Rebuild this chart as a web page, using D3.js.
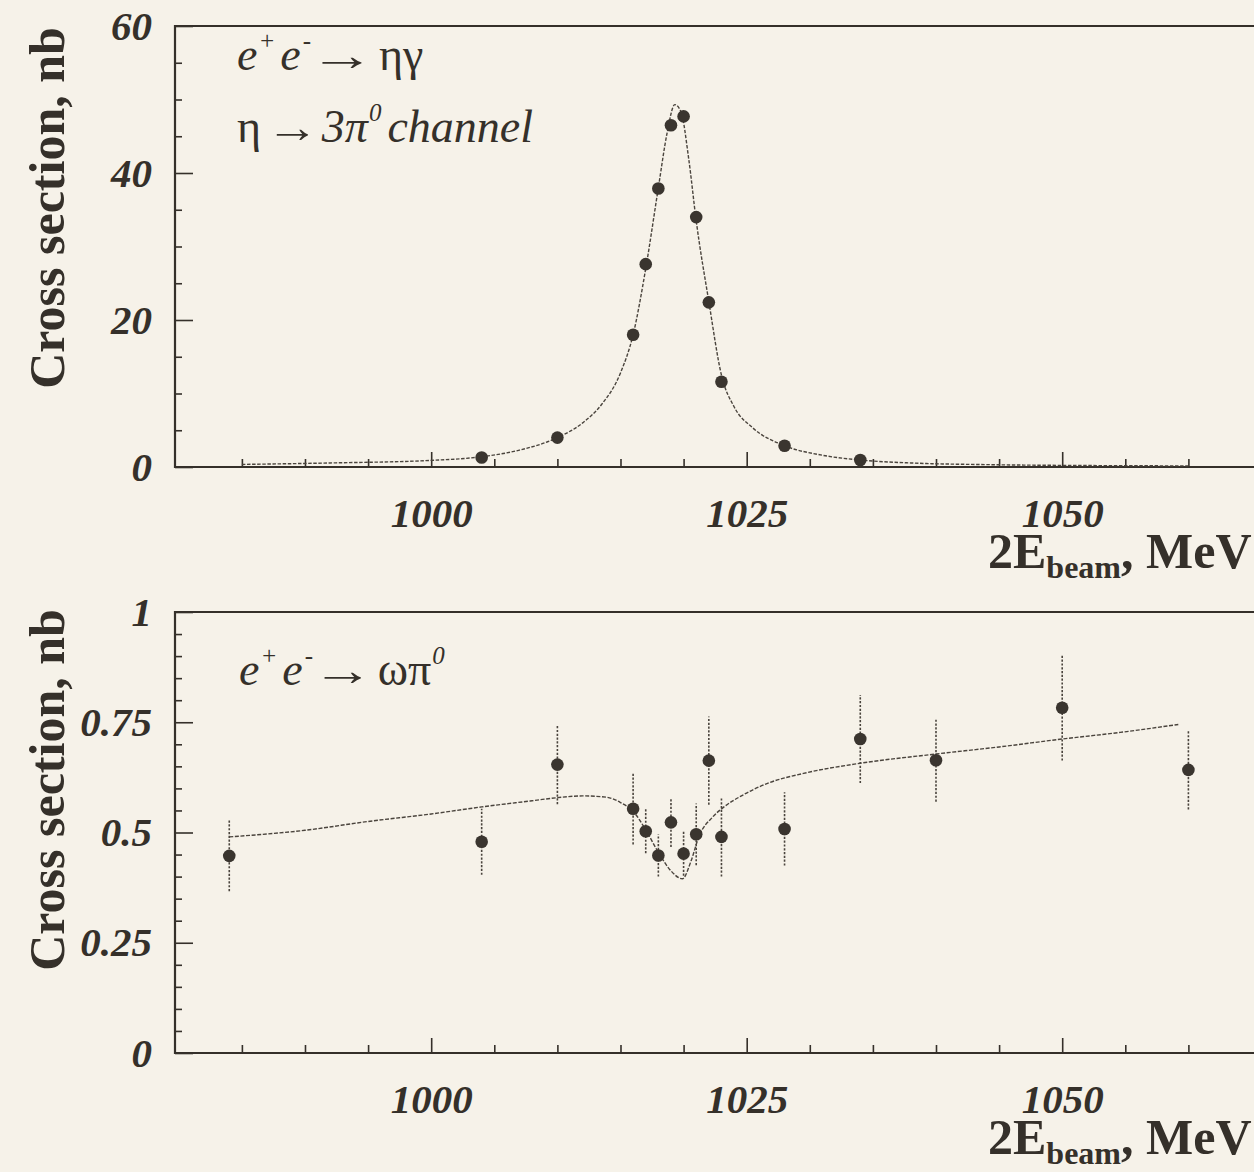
<!DOCTYPE html>
<html>
<head>
<meta charset="utf-8">
<script src="https://cdn.jsdelivr.net/npm/d3@7"></script>
<style>
  html, body { margin: 0; padding: 0; background: #f6f2e9; }
  svg { display: block; }
  text { font-family: "Liberation Serif", "Times New Roman", serif; fill: #35302a; }
</style>
</head>
<body>
<svg id="chart" width="1254" height="1172"></svg>
<script>
// ---- e+e- -> eta gamma (eta -> 3pi0): measured cross section, nb ----
const etaEnergy = [1004, 1010, 1016, 1017, 1018, 1019, 1020, 1021, 1022, 1023, 1028, 1034];
const etaSigma  = [1.3, 4.0, 18.0, 27.6, 37.9, 46.5, 47.7, 34.0, 22.4, 11.6, 2.9, 0.95];

// fitted curve, sampled along its drawn shape
const etaFitEnergy = [985, 992, 1000, 1004, 1007, 1010, 1012, 1013.5, 1015, 1016, 1017, 1018,
                      1018.7, 1019.3, 1019.8, 1020.4, 1021, 1022, 1023, 1024, 1025.5, 1028,
                      1031, 1034, 1038, 1045, 1052, 1060];
const etaFitSigma  = [0.35, 0.55, 0.9, 1.4, 2.3, 4.0, 6.0, 8.5, 12.8, 18.0, 27.0, 38.0,
                      45.5, 49.3, 48.3, 42.0, 33.5, 22.5, 12.5, 8.2, 5.3, 2.9,
                      1.6, 0.95, 0.55, 0.3, 0.2, 0.15];

// ---- e+e- -> omega pi0: measured cross section with errors, nb ----
const omegaEnergy = [984, 1004, 1010, 1016, 1017, 1018, 1019, 1020, 1021, 1022, 1023, 1028, 1034, 1040, 1050, 1060];
const omegaSigma  = [0.447, 0.479, 0.654, 0.554, 0.503, 0.448, 0.523, 0.452, 0.496, 0.663, 0.490, 0.508, 0.712, 0.664, 0.783, 0.642];
const omegaError  = [0.080, 0.075, 0.090, 0.081, 0.050, 0.048, 0.056, 0.050, 0.070, 0.100, 0.090, 0.083, 0.100, 0.094, 0.120, 0.090];

const omegaFitEnergy = [984, 990, 995, 1000, 1004, 1008, 1010, 1012, 1013.9, 1015, 1016, 1017, 1018,
                        1019, 1019.9, 1020.6, 1021.2, 1022.3, 1023.2, 1024.7, 1026.7, 1029.5,
                        1034, 1040, 1045, 1050, 1054.6, 1059.2];
const omegaFitSigma  = [0.490, 0.505, 0.525, 0.542, 0.558, 0.572, 0.579, 0.583, 0.580, 0.568, 0.548, 0.506, 0.455,
                        0.413, 0.395, 0.436, 0.490, 0.535, 0.558, 0.585, 0.612, 0.634,
                        0.657, 0.678, 0.694, 0.712, 0.727, 0.745];

// ---- axis ticks ----
const energyMajor = [1000, 1025, 1050];
const energyMinor = [985, 990, 995, 1005, 1010, 1015, 1020, 1030, 1035, 1040, 1045, 1055, 1060];
const etaMajor = [0, 20, 40, 60];
const etaMinor = [5, 10, 15, 25, 30, 35, 45, 50, 55];
const omegaMajor = [0, 0.25, 0.5, 0.75, 1];
const omegaMajorLabels = ["0", "0.25", "0.5", "0.75", "1"];
const omegaMinor = [0.05, 0.1, 0.15, 0.2, 0.3, 0.35, 0.4, 0.45, 0.55, 0.6, 0.65, 0.7, 0.8, 0.85, 0.9, 0.95];

const INK = "#35302a";
const svg = d3.select("#chart");
svg.append("rect").attr("width", 1254).attr("height", 1172).attr("fill", "#f6f2e9");

const x = d3.scaleLinear().domain([979.7, 1070]).range([175, 1314.6]);

function panel(opts) {
  const y = d3.scaleLinear().domain(opts.yDomain).range([opts.bottom, opts.top]);
  const g = svg.append("g");

  // frame: left, top and bottom lines (right side runs off the page)
  g.append("path")
    .attr("d", `M${x.range()[1]},${opts.top}H${x.range()[0]}V${opts.bottom}H${x.range()[1]}`)
    .attr("fill", "none").attr("stroke", INK).attr("stroke-width", 2.2);

  // x ticks (inward)
  const xMaj = g.append("g").attr("transform", `translate(0,${opts.bottom})`)
    .call(d3.axisBottom(x).tickValues(energyMajor).tickSize(-15).tickSizeOuter(0)
      .tickPadding(31).tickFormat(d3.format("d")));
  const xMin = g.append("g").attr("transform", `translate(0,${opts.bottom})`)
    .call(d3.axisBottom(x).tickValues(energyMinor).tickSize(-8).tickSizeOuter(0).tickFormat(""));

  // y ticks (inward)
  const yMaj = g.append("g").attr("transform", `translate(${x.range()[0]},0)`)
    .call(d3.axisLeft(y).tickValues(opts.major).tickSize(-18).tickSizeOuter(0)
      .tickPadding(23).tickFormat((d, i) => opts.labels[i]));
  const yMin = g.append("g").attr("transform", `translate(${x.range()[0]},0)`)
    .call(d3.axisLeft(y).tickValues(opts.minor).tickSize(-7).tickSizeOuter(0).tickFormat(""));

  [xMaj, xMin, yMaj, yMin].forEach(a => {
    a.select(".domain").remove();
    a.selectAll("line").attr("stroke", INK).attr("stroke-width", 1.6);
    a.selectAll("text")
      .attr("font-family", "Liberation Serif, serif")
      .attr("font-size", 41).attr("font-weight", "bold").attr("font-style", "italic")
      .attr("fill", INK);
  });

  // y title
  g.append("text")
    .attr("transform", `translate(64,${opts.titleY}) rotate(-90)`)
    .attr("text-anchor", "middle")
    .attr("font-size", 50).attr("font-weight", "bold")
    .text("Cross section, nb");

  // x title: 2E_beam, MeV
  const xt = g.append("text")
    .attr("x", 988).attr("y", opts.bottom + 101)
    .attr("font-size", 50).attr("font-weight", "bold");
  xt.append("tspan").text("2E");
  xt.append("tspan").attr("font-size", 32).attr("dy", 10).text("beam");
  xt.append("tspan").attr("dy", -10).text(",");
  xt.append("tspan").text(" MeV");

  return { g, y };
}

// Reaction label pieces: [string, kind, dx] with kind "i" (italic),
// "u" (upright) or "s" (italic superscript). Returns the x where the run ends.
function run(g, x0, base, pieces) {
  const t = g.append("text").attr("x", x0).attr("y", base).attr("font-size", 46);
  let raised = false;
  pieces.forEach(([s, kind, dx]) => {
    const sp = t.append("tspan").text(s)
      .attr("font-style", kind === "u" ? "normal" : "italic");
    if (dx) sp.attr("dx", dx);
    if (kind === "s") {
      sp.attr("font-size", 25);
      if (!raised) { sp.attr("dy", -21); raised = true; }
    } else if (raised) {
      sp.attr("dy", 21); raised = false;
    }
  });
  return x0 + t.node().getComputedTextLength();
}
// long reaction arrow: the ordinary arrow glyph stretched horizontally
function arrow(g, x0, base, stretch) {
  const t = g.append("text")
    .attr("transform", `translate(${x0},${base}) scale(${stretch},1)`)
    .attr("font-size", 44).text("\u2192");
  return x0 + t.node().getComputedTextLength() * stretch;
}

// ---------- upper panel: eta gamma ----------
const upper = panel({
  yDomain: [0, 60], top: 26, bottom: 467, titleY: 208,
  major: etaMajor, labels: etaMajor.map(String), minor: etaMinor
});

const etaLine = d3.line()
  .x((d, i) => x(etaFitEnergy[i]))
  .y((d, i) => upper.y(etaFitSigma[i]))
  .curve(d3.curveMonotoneX);
upper.g.append("path")
  .attr("d", etaLine(etaFitEnergy))
  .attr("fill", "none").attr("stroke", "#4a443d").attr("stroke-width", 1.4)
  .attr("stroke-dasharray", "3.5,1.6");

upper.g.selectAll("circle.eta").data(etaEnergy).join("circle")
  .attr("class", "eta")
  .attr("cx", d => x(d))
  .attr("cy", (d, i) => upper.y(etaSigma[i]))
  .attr("r", 6.3).attr("fill", "#3a352f");

let end = run(upper.g, 237, 70, [["e", "i"], ["+", "s", 1], ["e", "i", 5], ["-", "s", 2]]);
end = arrow(upper.g, end + 6, 70, 1.5);
run(upper.g, end + 4, 70, [["ηγ", "u"]]);

end = run(upper.g, 237, 142, [["η", "u"]]);
end = arrow(upper.g, end + 5, 142, 1.2);
run(upper.g, end + 3, 142, [["3π", "i"], ["0", "s", 1], ["channel", "i", 6]]);

// ---------- lower panel: omega pi0 ----------
const lower = panel({
  yDomain: [0, 1], top: 612, bottom: 1053, titleY: 790,
  major: omegaMajor, labels: omegaMajorLabels, minor: omegaMinor
});

const omegaLine = d3.line()
  .x((d, i) => x(omegaFitEnergy[i]))
  .y((d, i) => lower.y(omegaFitSigma[i]))
  .curve(d3.curveMonotoneX);
lower.g.append("path")
  .attr("d", omegaLine(omegaFitEnergy))
  .attr("fill", "none").attr("stroke", "#4a443d").attr("stroke-width", 1.4)
  .attr("stroke-dasharray", "4,1.6");

lower.g.selectAll("line.err").data(omegaEnergy).join("line")
  .attr("class", "err")
  .attr("x1", d => x(d)).attr("x2", d => x(d))
  .attr("y1", (d, i) => lower.y(omegaSigma[i] - omegaError[i]))
  .attr("y2", (d, i) => lower.y(omegaSigma[i] + omegaError[i]))
  .attr("stroke", "#4a443d").attr("stroke-width", 1.6)
  .attr("stroke-dasharray", "2.2,1.6");

lower.g.selectAll("circle.omega").data(omegaEnergy).join("circle")
  .attr("class", "omega")
  .attr("cx", d => x(d))
  .attr("cy", (d, i) => lower.y(omegaSigma[i]))
  .attr("r", 6.3).attr("fill", "#3a352f");

end = run(lower.g, 239, 685, [["e", "i"], ["+", "s", 1], ["e", "i", 5], ["-", "s", 2]]);
end = arrow(lower.g, end + 7, 685, 1.4);
run(lower.g, end + 4, 685, [["ωπ", "u"], ["0", "s", 1]]);
</script>
</body>
</html>
